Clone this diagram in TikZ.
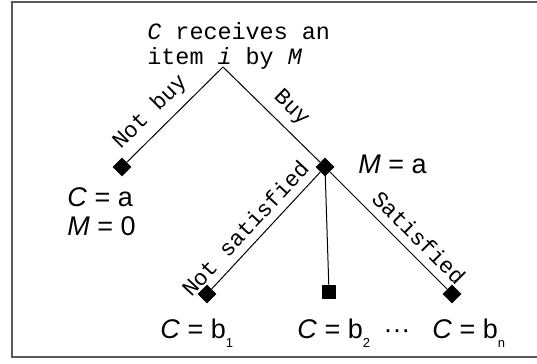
\documentclass[tikz,border=0pt]{standalone}
\usepackage{fontspec}
\setmainfont{Liberation Sans}
\setmonofont{Liberation Mono}
\usetikzlibrary{shapes.geometric}
\newcommand{\subidx}[1]{\raisebox{-4.7pt}{\fontsize{6.5}{7}\selectfont #1}}

\begin{document}
\begin{tikzpicture}[
  x=0.5pt, y=-0.5pt,
  leaf/.style={diamond, fill=black, inner sep=0pt, minimum size=9.5pt},
  endsq/.style={rectangle, fill=black, inner sep=0pt, minimum size=7pt},
  branch/.style={line width=0.5pt},
  choice/.style={font=\fontsize{11.2}{13}\ttfamily, sloped, above, inner sep=4pt},
  val/.style={font=\fontsize{13.5}{14.5}\selectfont, inner sep=0pt},
]
\useasboundingbox (0,0) rectangle (537,364);
\draw[line width=1pt, black!65] (560,2) -- (12,2) -- (12,357) -- (560,357);
\node[font=\fontsize{11.7}{12.5}\ttfamily, align=left, anchor=north west,
      inner sep=0pt] (root) at (147,22)
      {\textit{C} receives an\\item \textit{i} by \textit{M}};
\coordinate (apex) at (223,67);
\node[leaf] (nobuy) at (122,167) {};
\node[leaf] (buy) at (325,167) {};
\node[leaf] (unsat) at (207,294) {};
\node[endsq] (mid) at (329,292) {};
\node[leaf] (sat) at (452,294) {};
\draw[branch] (apex) -- (nobuy) node[choice, pos=0.62] {Not buy};
\draw[branch] (apex) -- (buy) node[choice, pos=0.57] {Buy};
\draw[branch] (buy) -- (unsat) node[choice, pos=0.58] {Not satisfied};
\draw[branch] (buy.center) -- (mid);
\draw[branch] (buy) -- (sat) node[choice, pos=0.66] {Satisfied};
\node[val, anchor=base west] (ma) at (358,173) {\textit{M} = a};
\node[val, anchor=north west, align=left] (ca) at (67,187)
      {\textit{C} = a\\\textit{M} = 0};
\node[val, anchor=base west] (b1) at (160,338) {\textit{C} = b\subidx{1}};
\node[val, anchor=base west] (b2) at (297,338) {\textit{C} = b\subidx{2}};
\node[val, anchor=base] (dots) at (397,338) {···};
\node[val, anchor=base west] (bn) at (432,338) {\textit{C} = b\subidx{n}};
\end{tikzpicture}
\end{document}
